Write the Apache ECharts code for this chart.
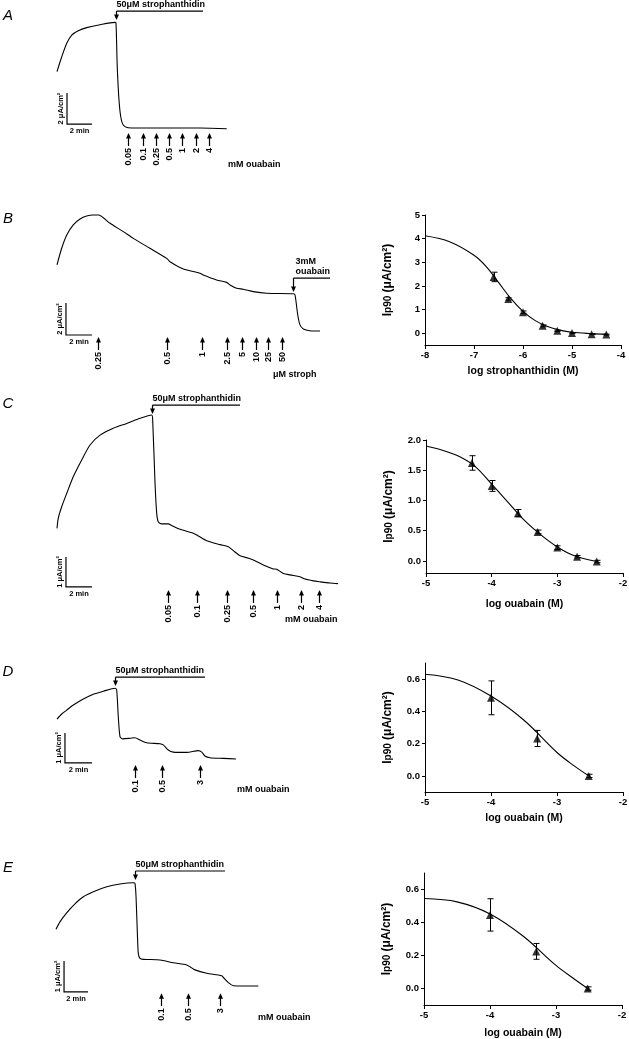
<!DOCTYPE html>
<html>
<head>
<meta charset="utf-8">
<script src="https://cdn.jsdelivr.net/npm/echarts@6/dist/echarts.min.js"></script>
<style>
  html, body { margin: 0; padding: 0; background: #fff; }
  #chart { width: 629px; height: 1039px; }
</style>
</head>
<body>
<div id="chart"></div>
<script>
// recordings: [time (min), current (uA/cm2)], current relative to the fully blocked level
const traceA = [[0,3.70],[0.38,4.66],[0.78,5.53],[1.18,6.06],[1.70,6.34],[2.38,6.54],[3.44,6.73],[4.64,6.88],[4.72,6.82],[4.82,4.02],[4.96,1.87],[5.10,0.79],[5.30,0.26],[5.70,0.08],[7.44,0.06],[11.44,0.06],[13.58,0.02]]
const traceB = [[0,4.13],[0.36,5.17],[0.75,6.0],[1.25,6.63],[1.77,7.0],[2.28,7.19],[2.79,7.25],[3.18,7.25],[4.08,6.73],[5.10,6.21],[5.87,5.79],[7.15,5.17],[8.44,4.54],[8.69,4.33],[9.72,3.88],[11.0,3.61],[11.25,3.5],[12.28,3.19],[13.05,3.04],[13.31,2.88],[13.82,2.67],[14.33,2.61],[15.1,2.46],[16.13,2.36],[18.18,2.33],[18.31,2.25],[18.52,1.0],[18.69,0.38],[18.95,0.13],[19.46,0.02],[20.23,0]]
const traceC = [[0,1.82],[0.10,2.16],[0.36,2.54],[0.75,2.99],[1.25,3.54],[1.90,4.10],[2.54,4.60],[3.31,4.93],[4.33,5.16],[5.36,5.32],[6.38,5.49],[7.28,5.6],[7.36,5.43],[7.54,3.33],[7.67,2.32],[7.79,2.04],[8.05,1.97],[8.56,1.97],[8.82,1.92],[9.46,1.79],[10.48,1.66],[10.87,1.57],[11.52,1.41],[12.54,1.28],[13.18,1.21],[13.56,1.08],[14.08,0.91],[14.85,0.81],[15.23,0.74],[15.87,0.6],[16.64,0.47],[16.9,0.46],[17.41,0.32],[17.92,0.27],[18.69,0.21],[19.08,0.13],[19.72,0.07],[20.23,0.04],[21.0,0],[21.62,-0.02]]
const traceD = [[0,1.33],[0.35,1.5],[0.72,1.63],[1.21,1.8],[1.95,2.0],[2.69,2.16],[3.43,2.26],[4.3,2.36],[4.42,2.3],[4.54,1.41],[4.67,0.74],[4.87,0.67],[5.41,0.69],[5.78,0.71],[6.15,0.63],[6.64,0.54],[7.63,0.51],[7.87,0.47],[8.24,0.3],[8.61,0.23],[9.61,0.22],[10.47,0.28],[10.72,0.23],[10.96,0.1],[11.33,0.04],[12.32,0.02],[13.26,0]]
const traceE = [[0,1.83],[0.33,2.07],[0.89,2.36],[1.58,2.65],[2.28,2.88],[3.11,3.04],[4.23,3.2],[5.33,3.29],[6.44,3.33],[6.58,3.31],[6.67,2.88],[6.78,1.7],[6.86,1.05],[7.0,0.89],[7.28,0.86],[8.67,0.84],[9.78,0.75],[10.89,0.68],[11.17,0.62],[11.58,0.52],[12.56,0.41],[13.81,0.33],[14.0,0.25],[14.36,0.11],[14.78,0.01],[16.86,0]]

// drug additions (min) and their labels
const doseTimesA = [5.68, 6.88, 7.92, 8.96, 10.0, 11.12, 12.16]
const doseLabelsA = ['0.05', '0.1', '0.25', '0.5', '1', '2', '4']
const doseTimesB = [3.15, 8.46, 11.15, 13.08, 14.23, 15.31, 16.23, 17.31]
const doseLabelsB = ['0.25', '0.5', '1', '2.5', '5', '10', '25', '50']
const doseTimesC = [8.54, 10.77, 13.08, 15.08, 16.92, 18.77, 20.15]
const doseLabelsC = ['0.05', '0.1', '0.25', '0.5', '1', '2', '4']
const doseTimesD = [5.78, 7.78, 10.59]
const doseLabelsD = ['0.1', '0.5', '3']
const doseTimesE = [8.75, 11.0, 13.67]
const doseLabelsE = ['0.1', '0.5', '3']

// scale bars: [min, uA/cm2]
const scaleA = [2, 2]
const scaleB = [2, 2]
const scaleC = [2, 1]
const scaleD = [2, 1]
const scaleE = [2, 1]

// dose-response: log dose (M), Ip90, error, fitted curve as read
const logDoseB = [-6.6, -6.3, -6.0, -5.6, -5.3, -5.0, -4.6, -4.3]
const ip90B = [2.38, 1.45, 0.89, 0.31, 0.1, 0.01, -0.04, -0.06]
const errB = [0.2, 0.05, 0.05, 0.04, 0.03, 0.02, 0.02, 0.02]
const fitB = [[-8,4.12],[-7.5,3.87],[-7,3.3],[-6.75,2.82],[-6.5,2.15],[-6.25,1.47],[-6.0,0.92],[-5.75,0.53],[-5.5,0.28],[-5.25,0.13],[-5.0,0.04],[-4.6,-0.02],[-4.3,-0.05]]
const yTicksB = [0, 1, 2, 3, 4, 5]

const logDoseC = [-4.3, -4.0, -3.6, -3.3, -3.0, -2.7, -2.4]
const ip90C = [1.62, 1.24, 0.79, 0.48, 0.22, 0.07, -0.01]
const errC = [0.12, 0.09, 0.06, 0.03, 0.03, 0.02, 0.02]
const fitC = [[-5,1.9],[-4.75,1.83],[-4.5,1.73],[-4.25,1.56],[-4,1.27],[-3.75,0.97],[-3.5,0.67],[-3.25,0.43],[-3,0.23],[-2.75,0.09],[-2.4,-0.01]]
const yTicksC = [0, 0.5, 1, 1.5, 2]

const logDoseD = [-4.0, -3.3, -2.52]
const ip90D = [0.484, 0.232, 0.0]
const errD = [0.105, 0.05, 0.01]
const fitD = [[-5,0.63],[-4.5,0.595],[-4,0.495],[-3.5,0.345],[-3,0.145],[-2.75,0.065],[-2.52,0.0]]
const yTicksD = [0, 0.2, 0.4, 0.6]

const logDoseE = [-4.0, -3.3, -2.52]
const ip90E = [0.446, 0.225, 0.0]
const errE = [0.098, 0.048, 0.01]
const fitE = [[-5,0.545],[-4.5,0.525],[-4,0.452],[-3.5,0.318],[-3,0.14],[-2.75,0.065],[-2.52,0.0]]
const yTicksE = [0, 0.2, 0.4, 0.6]

const FONT = '"Liberation Sans", Arial, Helvetica, sans-serif'
const BLACK = '#000'

// layout of the recording panels (pixels per unit, zero level, etc.)
const tracePanels = [
  { letter: 'A', letterPos: [8, 16], trace: traceA, doses: doseTimesA, labels: doseLabelsA, scale: scaleA,
    box: { left: 57, zeroY: 129, pxMin: 12.5, pxUA: 15.5, tMax: 14, vMin: -4, vMax: 8 },
    arrowAt: -0.26, scaleAt: [0.8, 0.32],
    bar: { t0: 4.72, t1: 11.68, level: 7.61, to: 7.03, text: '50μM strophanthidin', dx: 0 },
    unit: { text: 'mM ouabain', x: 228, y: 165 } },
  { letter: 'B', letterPos: [8, 219], trace: traceB, doses: doseTimesB, labels: doseLabelsB, scale: scaleB,
    box: { left: 57, zeroY: 331, pxMin: 13, pxUA: 16, tMax: 21, vMin: -4, vMax: 8 },
    arrowAt: -0.375, scaleAt: [0.69, -0.25],
    bar: { t0: 18.15, t1: 21.0, level: 3.31, to: 2.44, text: '3mM\nouabain', dx: 2 },
    unit: { text: 'μM stroph', x: 273, y: 375 } },
  { letter: 'C', letterPos: [8, 404], trace: traceC, doses: doseTimesC, labels: doseLabelsC, scale: scaleC,
    box: { left: 57, zeroY: 583, pxMin: 13, pxUA: 30, tMax: 22, vMin: -1.5, vMax: 6.5 },
    arrowAt: -0.23, scaleAt: [0.69, -0.13],
    bar: { t0: 7.31, t1: 14.08, level: 5.93, to: 5.63, text: '50μM strophanthidin', dx: 0 },
    unit: { text: 'mM ouabain', x: 285, y: 620 } },
  { letter: 'D', letterPos: [8, 672], trace: traceD, doses: doseTimesD, labels: doseLabelsD, scale: scaleD,
    box: { left: 57, zeroY: 759, pxMin: 13.5, pxUA: 30, tMax: 14, vMin: -1.5, vMax: 3.5 },
    arrowAt: -0.2, scaleAt: [0.59, -0.13],
    bar: { t0: 4.3, t1: 10.96, level: 2.73, to: 2.43, text: '50μM strophanthidin', dx: 0 },
    unit: { text: 'mM ouabain', x: 237, y: 790 } },
  { letter: 'E', letterPos: [8, 868], trace: traceE, doses: doseTimesE, labels: doseLabelsE, scale: scaleE,
    box: { left: 56, zeroY: 986, pxMin: 12, pxUA: 31, tMax: 17.5, vMin: -1.5, vMax: 4 },
    arrowAt: -0.23, scaleAt: [0.67, -0.19],
    bar: { t0: 6.58, t1: 14.08, level: 3.71, to: 3.42, text: '50μM strophanthidin', dx: 0 },
    unit: { text: 'mM ouabain', x: 258, y: 1018 } }
]

const plotPanels = [
  { x: logDoseB, y: ip90B, err: errB, fit: fitB, yTicks: yTicksB, xMin: -8, xMax: -4, yMin: -0.5, yMax: 5, dec: 0,
    xName: 'log strophanthidin (M)', nameGap: 21, grid: { left: 425, top: 215, width: 196, height: 130 } },
  { x: logDoseC, y: ip90C, err: errC, fit: fitC, yTicks: yTicksC, xMin: -5, xMax: -2, yMin: -0.2, yMax: 2.0, dec: 1,
    xName: 'log ouabain (M)', nameGap: 26, grid: { left: 426, top: 440, width: 197, height: 133 } },
  { x: logDoseD, y: ip90D, err: errD, fit: fitD, yTicks: yTicksD, xMin: -5, xMax: -2, yMin: -0.1, yMax: 0.7, dec: 1,
    xName: 'log ouabain (M)', nameGap: 21, grid: { left: 425, top: 663, width: 198, height: 129 } },
  { x: logDoseE, y: ip90E, err: errE, fit: fitE, yTicks: yTicksE, xMin: -5, xMax: -2, yMin: -0.1, yMax: 0.7, dec: 1,
    xName: 'log ouabain (M)', nameGap: 23, grid: { left: 424, top: 873, width: 198, height: 132 } }
]

const txt = (o) => Object.assign({ fill: BLACK, textAlign: o.align, textVerticalAlign: o.verticalAlign }, o)

function doseArrows (labels) {
  return (params, api) => {
    const p = api.coord([api.value(0), api.value(1)])
    const x = Math.round(p[0]) + 0.5
    const y = p[1]
    return {
      type: 'group',
      children: [
        { type: 'line', shape: { x1: x, y1: y + 4, x2: x, y2: y + 13 }, style: { stroke: BLACK, lineWidth: 1.2 } },
        { type: 'polygon', shape: { points: [[x, y], [x - 2.5, y + 5.5], [x + 2.5, y + 5.5]] }, style: { fill: BLACK } },
        { type: 'text', x: x, y: y + 15, rotation: Math.PI / 2,
          style: txt({ text: labels[params.dataIndex], font: 'bold 9px ' + FONT, align: 'right', verticalAlign: 'middle' }) }
      ]
    }
  }
}

function scaleBar (size) {
  return (params, api) => {
    const t = api.value(0)
    const v = api.value(1)
    const top = api.coord([t, v + size[1]])
    const corner = api.coord([t, v])
    const end = api.coord([t + size[0], v])
    return {
      type: 'group',
      children: [
        { type: 'polyline', shape: { points: [top, corner, end] }, style: { stroke: BLACK, lineWidth: 1.2, fill: null } },
        { type: 'text', x: corner[0] - 2, y: (top[1] + corner[1]) / 2, rotation: Math.PI / 2,
          style: txt({ text: size[1] + ' μA/cm²', font: 'bold 7.5px ' + FONT, align: 'center', verticalAlign: 'bottom' }) },
        { type: 'text', x: (corner[0] + end[0]) / 2, y: corner[1] + 3,
          style: txt({ text: size[0] + ' min', font: 'bold 7.5px ' + FONT, align: 'center', verticalAlign: 'top' }) }
      ]
    }
  }
}

function drugBar (bar) {
  return (params, api) => {
    const a = api.coord([bar.t0, bar.level])
    const b = api.coord([bar.t1, bar.level])
    const tip = api.coord([bar.t0, bar.to])
    const x = Math.round(a[0]) + 0.5
    return {
      type: 'group',
      children: [
        { type: 'line', shape: { x1: x, y1: a[1], x2: b[0], y2: a[1] }, style: { stroke: BLACK, lineWidth: 1.2 } },
        { type: 'line', shape: { x1: x, y1: a[1], x2: x, y2: tip[1] - 4 }, style: { stroke: BLACK, lineWidth: 1.2 } },
        { type: 'polygon', shape: { points: [[x, tip[1]], [x - 2.5, tip[1] - 5.5], [x + 2.5, tip[1] - 5.5]] }, style: { fill: BLACK } },
        { type: 'text', x: x + bar.dx, y: a[1] - 1.5,
          style: txt({ text: bar.text, font: 'bold 9px ' + FONT, lineHeight: 10, align: 'left', verticalAlign: 'bottom' }) }
      ]
    }
  }
}

function errorBars (params, api) {
  const lo = api.coord([api.value(0), api.value(1)])
  const hi = api.coord([api.value(0), api.value(2)])
  const x = Math.round(lo[0]) + 0.5
  const st = { stroke: BLACK, lineWidth: 1 }
  return {
    type: 'group',
    children: [
      { type: 'line', shape: { x1: x, y1: lo[1], x2: x, y2: hi[1] }, style: st },
      { type: 'line', shape: { x1: x - 3, y1: lo[1], x2: x + 3, y2: lo[1] }, style: st },
      { type: 'line', shape: { x1: x - 3, y1: hi[1], x2: x + 3, y2: hi[1] }, style: st }
    ]
  }
}

const grids = []
const xAxes = []
const yAxes = []
const series = []
const graphics = []

tracePanels.forEach((p, i) => {
  const b = p.box
  grids.push({ left: b.left, top: b.zeroY - b.vMax * b.pxUA, width: b.tMax * b.pxMin, height: (b.vMax - b.vMin) * b.pxUA, outerBoundsMode: 'none' })
  xAxes.push({ gridIndex: i, type: 'value', min: 0, max: b.tMax, show: false })
  yAxes.push({ gridIndex: i, type: 'value', min: b.vMin, max: b.vMax, show: false })
  series.push({ type: 'line', xAxisIndex: i, yAxisIndex: i, data: p.trace, showSymbol: false, symbol: 'none',
    smooth: 0.25, clip: false, lineStyle: { color: BLACK, width: 1.1 } })
  series.push({ type: 'custom', xAxisIndex: i, yAxisIndex: i, encode: { x: 0, y: 1 },
    data: p.doses.map(t => [t, p.arrowAt]), renderItem: doseArrows(p.labels) })
  series.push({ type: 'custom', xAxisIndex: i, yAxisIndex: i, encode: { x: 0, y: 1 },
    data: [p.scaleAt], renderItem: scaleBar(p.scale) })
  series.push({ type: 'custom', xAxisIndex: i, yAxisIndex: i, encode: { x: 0, y: 1 },
    data: [[p.bar.t0, p.bar.level]], renderItem: drugBar(p.bar) })
  graphics.push({ type: 'text', x: p.letterPos[0], y: p.letterPos[1],
    style: { text: p.letter, font: 'italic 15px ' + FONT, fill: BLACK, align: 'center', verticalAlign: 'middle', textAlign: 'center', textVerticalAlign: 'middle' } })
  graphics.push({ type: 'text', x: p.unit.x, y: p.unit.y,
    style: { text: p.unit.text, font: 'bold 9px ' + FONT, fill: BLACK, align: 'left', verticalAlign: 'middle', textAlign: 'left', textVerticalAlign: 'middle' } })
})

const axisText = { color: BLACK, fontFamily: FONT, fontWeight: 'bold', fontSize: 9.5 }

plotPanels.forEach((p, j) => {
  const i = tracePanels.length + j
  grids.push(Object.assign({ outerBoundsMode: 'none' }, p.grid))
  xAxes.push({
    gridIndex: i, type: 'value', min: p.xMin, max: p.xMax, interval: 1,
    axisLine: { show: true, onZero: false, lineStyle: { color: BLACK, width: 1 } },
    axisTick: { show: true, length: 4, lineStyle: { color: BLACK } },
    axisLabel: Object.assign({ margin: 5, showMinLabel: true, showMaxLabel: true }, axisText),
    splitLine: { show: false },
    name: p.xName, nameLocation: 'middle', nameGap: p.nameGap,
    nameTextStyle: { color: BLACK, fontFamily: FONT, fontWeight: 'bold', fontSize: 10.5 }
  })
  yAxes.push({
    gridIndex: i, type: 'value', min: p.yMin, max: p.yMax,
    axisLine: { show: true, onZero: false, lineStyle: { color: BLACK, width: 1 } },
    axisTick: { show: true, length: 3, customValues: p.yTicks, lineStyle: { color: BLACK } },
    axisLabel: Object.assign({ margin: 5, customValues: p.yTicks, formatter: v => Number(v).toFixed(p.dec) }, axisText),
    splitLine: { show: false },
    name: '{a|I}{b|p90}{a| (μA/cm²)}', nameLocation: 'middle', nameGap: 31, nameRotate: 90,
    nameTextStyle: {
      color: BLACK, fontFamily: FONT, fontWeight: 'bold', fontSize: 11.5,
      rich: {
        a: { color: BLACK, fontFamily: FONT, fontWeight: 'bold', fontSize: 12 },
        b: { color: BLACK, fontFamily: FONT, fontWeight: 'bold', fontSize: 10 }
      }
    }
  })
  series.push({ type: 'line', xAxisIndex: i, yAxisIndex: i, data: p.fit, showSymbol: false, symbol: 'none',
    smooth: 0.35, lineStyle: { color: BLACK, width: 1.1 } })
  series.push({ type: 'custom', xAxisIndex: i, yAxisIndex: i, encode: { x: 0, y: [1, 2] },
    data: p.x.map((x, k) => [x, p.y[k] - p.err[k], p.y[k] + p.err[k]]), renderItem: errorBars })
  series.push({ type: 'scatter', xAxisIndex: i, yAxisIndex: i, data: p.x.map((x, k) => [x, p.y[k]]),
    symbol: 'triangle', symbolSize: 8, itemStyle: { color: BLACK } })
})

const chart = echarts.init(document.getElementById('chart'), null, { renderer: 'canvas' })
chart.setOption({
  backgroundColor: '#fff',
  animation: false,
  grid: grids,
  xAxis: xAxes,
  yAxis: yAxes,
  series: series,
  graphic: graphics
})
</script>
</body>
</html>
